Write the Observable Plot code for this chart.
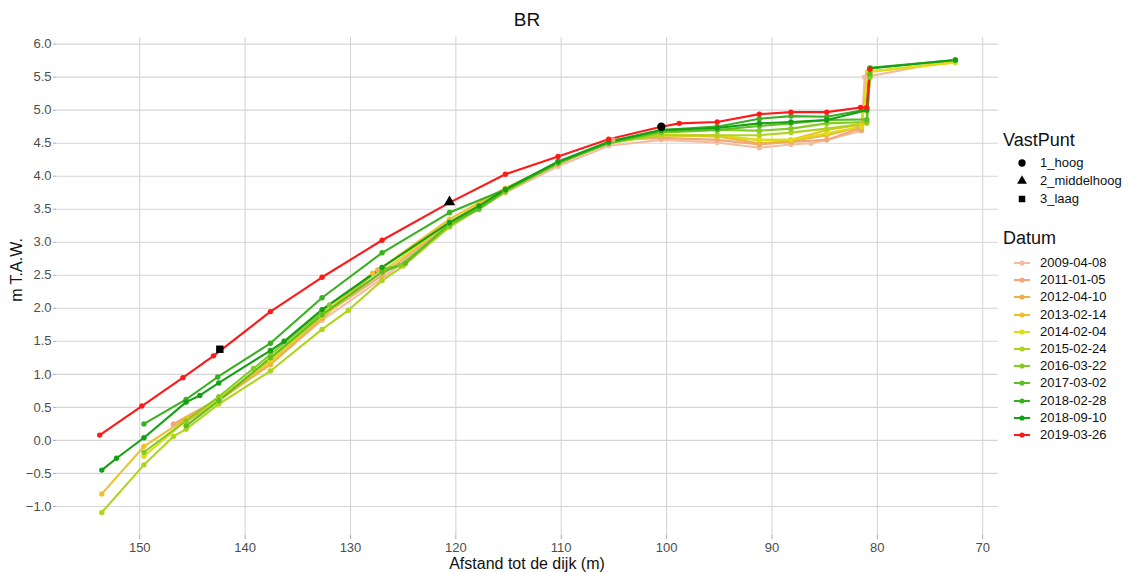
<!DOCTYPE html>
<html>
<head>
<meta charset="utf-8">
<script src="https://cdn.jsdelivr.net/npm/d3@7"></script>
<script src="https://cdn.jsdelivr.net/npm/@observablehq/plot@0.6"></script>
<style>
  html, body { margin: 0; padding: 0; background: #fff; }
  #wrap { position: relative; width: 1130px; height: 572px; font-family: "Liberation Sans", Arial, sans-serif; }
  .abs { position: absolute; white-space: nowrap; }
</style>
</head>
<body>
<div id="wrap"></div>
<script>
// ---------- data ----------
const dates = ["2009-04-08","2011-01-05","2012-04-10","2013-02-14","2014-02-04","2015-02-24","2016-03-22","2017-03-02","2018-02-28","2018-09-10","2019-03-26"];
const dateColors = ["#F2BDA0","#F0A87A","#EEB048","#EDC128","#DEDE14","#B0D41C","#86CA22","#5CBE22","#38B020","#14A014","#FF1A1A"];

const d2009 = [146.8,142.4,137.6,132.7,127.0,120.6,115.3,110.3,105.5,100.5,95.2,91.2,88.2,86.3,84.8,81.5,81.2,72.6];
const v2009 = [0.23,0.63,1.15,1.82,2.45,3.25,3.75,4.15,4.46,4.55,4.51,4.43,4.48,4.50,4.55,4.69,5.50,5.76];

const d2011 = [146.8,142.5,137.6,132.7,127.0,120.6,115.3,110.3,105.1,100.5,95.2,91.2,88.2,84.8,81.8,81.5,80.9];
const v2011 = [0.25,0.63,1.20,1.88,2.50,3.28,3.78,4.18,4.55,4.58,4.55,4.48,4.52,4.55,4.72,4.70,5.55];

const d2012 = [145.6,142.5,137.6,132.7,127.4,120.6,115.3,110.3,105.5,100.5,95.2,91.2,88.2,84.8,81.5,80.9];
const v2012 = [0.28,0.60,1.15,1.85,2.58,3.30,3.80,4.20,4.52,4.62,4.60,4.50,4.53,4.62,4.75,5.58];

const d2013 = [153.6,149.6,145.6,142.5,137.6,132.7,127.9,127.0,120.6,115.3,110.3,105.5,100.5,95.2,91.2,88.2,84.8,81.5,80.9,72.6];
const v2013 = [-0.81,-0.09,0.33,0.62,1.20,1.90,2.53,2.62,3.35,3.82,4.20,4.52,4.62,4.60,4.55,4.55,4.70,4.78,5.58,5.73];

const d2014 = [149.6,145.6,142.5,137.6,132.7,127.0,120.6,115.3,110.3,105.5,100.5,95.2,91.2,88.2,84.8,81.5,80.9,72.6];
const v2014 = [-0.24,0.30,0.63,1.22,1.88,2.55,3.30,3.80,4.20,4.52,4.62,4.62,4.55,4.55,4.65,4.75,5.58,5.72];

const d2015 = [153.6,149.6,146.8,145.6,142.5,137.6,132.7,130.2,127.0,125.0,120.6,115.3,110.3,105.5,100.5,95.2,91.2,88.2,84.8,81.0,80.7];
const v2015 = [-1.09,-0.37,0.06,0.17,0.55,1.05,1.68,1.97,2.42,2.64,3.23,3.76,4.20,4.50,4.62,4.62,4.62,4.66,4.72,4.80,5.52];

const d2016 = [149.6,145.6,142.5,139.2,137.6,132.7,132.0,127.0,125.3,120.6,115.3,110.3,105.5,100.5,95.2,91.2,88.2,84.8,81.0,80.7];
const v2016 = [-0.18,0.30,0.66,1.09,1.30,1.94,2.05,2.60,2.65,3.25,3.78,4.20,4.50,4.66,4.70,4.69,4.72,4.80,4.82,5.50];

const d2017 = [145.6,142.5,137.6,132.7,127.0,124.8,120.6,117.8,115.3,110.3,105.5,100.5,95.2,91.2,88.2,84.8,81.0,80.7];
const v2017 = [0.22,0.60,1.25,1.90,2.55,2.68,3.28,3.50,3.78,4.20,4.50,4.68,4.70,4.76,4.80,4.85,4.86,5.55];

const d2018a = [149.6,145.6,142.6,137.6,132.7,127.0,120.6,115.3,110.3,105.5,100.5,95.2,91.2,88.2,84.8,81.0,80.7,72.6];
const v2018a = [0.25,0.62,0.96,1.47,2.16,2.84,3.45,3.80,4.22,4.52,4.70,4.75,4.87,4.91,4.90,5.01,5.64,5.76];

const d2018b = [153.6,152.2,149.6,145.6,144.3,142.5,137.6,136.3,132.7,127.0,120.6,117.8,115.3,110.3,105.5,100.5,95.2,91.2,88.2,84.8,81.0,80.7,72.6];
const v2018b = [-0.45,-0.27,0.04,0.58,0.68,0.87,1.36,1.50,1.98,2.62,3.30,3.55,3.80,4.22,4.52,4.70,4.73,4.80,4.82,4.85,5.00,5.63,5.76];

const d2019 = [153.8,149.8,145.9,143.0,137.6,132.7,127.0,120.6,115.3,110.3,105.5,100.5,98.8,95.2,91.2,88.2,84.8,81.6,81.0,80.7];
const v2019 = [0.08,0.52,0.95,1.28,1.95,2.47,3.03,3.60,4.03,4.30,4.56,4.75,4.80,4.82,4.94,4.97,4.97,5.04,5.04,5.62];

const seriesD = [d2009,d2011,d2012,d2013,d2014,d2015,d2016,d2017,d2018a,d2018b,d2019];
const seriesV = [v2009,v2011,v2012,v2013,v2014,v2015,v2016,v2017,v2018a,v2018b,v2019];

const vpNames = ["1_hoog","2_middelhoog","3_laag"];
const vpSymbols = ["circle","triangle","square"];
const vpD = [100.5,120.6,142.4];
const vpV = [4.75,3.61,1.38];

const xTicks = [150,140,130,120,110,100,90,80,70];
const yTicks = [-1,-0.5,0,0.5,1,1.5,2,2.5,3,3.5,4,4.5,5,5.5,6];

// ---------- build tables ----------
const rows = [];
dates.forEach((dt, i) => seriesD[i].forEach((d, j) => rows.push({date: dt, d, v: seriesV[i][j]})));
const vp = vpNames.map((n, i) => ({name: n, d: vpD[i], v: vpV[i]}));

const W = 1130, H = 572;
const mL = 56, mR = 132, mT = 37, mB = 37;
const gridColor = "#d5d5d5";
const tickColor = "#4d4d4d";

const chart = Plot.plot({
  width: W, height: H,
  marginLeft: mL, marginRight: mR, marginTop: mT, marginBottom: mB,
  style: {fontFamily: "Liberation Sans, Arial, sans-serif", background: "white"},
  x: {domain: [157.9, 68.5], label: null},
  y: {domain: [-1.44, 6.10], label: null},
  color: {domain: dates, range: dateColors, type: "ordinal"},
  symbol: {domain: vpNames, range: vpSymbols},
  marks: [
    Plot.gridX(xTicks, {stroke: gridColor, strokeOpacity: 1, strokeWidth: 1.1}),
    Plot.gridY(yTicks, {stroke: gridColor, strokeOpacity: 1, strokeWidth: 1.1}),
    Plot.axisX(xTicks, {tickSize: 4, tickPadding: 3, fontSize: 13, color: tickColor, stroke: "#aaaaaa", label: null, tickFormat: d => String(d)}),
    Plot.axisY(yTicks, {tickSize: 3, tickPadding: 2, fontSize: 13, color: tickColor, stroke: "#aaaaaa", label: null, tickFormat: d3.format(".1f")}),
    Plot.line(rows, {x: "d", y: "v", z: "date", stroke: "date", strokeWidth: 2.1, curve: "linear"}),
    Plot.dot(rows, {x: "d", y: "v", fill: "date", r: 2.7, stroke: "none"}),
    Plot.dot(vp, {x: "d", y: "v", symbol: "name", fill: "black", r: 4.2, stroke: "none"})
  ]
});

const wrap = document.getElementById("wrap");
chart.style.position = "absolute";
chart.style.left = "0px";
chart.style.top = "0px";
wrap.appendChild(chart);

function addText(txt, css) {
  const el = document.createElement("div");
  el.className = "abs";
  el.textContent = txt;
  Object.assign(el.style, css);
  wrap.appendChild(el);
  return el;
}

const panelCx = mL + (W - mL - mR) / 2;
// title
addText("BR", {left: panelCx + "px", top: "10px", transform: "translateX(-50%)", fontSize: "19px", lineHeight: "20px", color: "#111"});
// x label
addText("Afstand tot de dijk (m)", {left: panelCx + "px", top: "556px", transform: "translateX(-50%)", fontSize: "16px", lineHeight: "16px", color: "#111"});
// y label
addText("m T.A.W.", {left: "17px", top: "270px", transform: "translate(-50%,-50%) rotate(-90deg)", fontSize: "16px", lineHeight: "16px", color: "#111"});

// legends
const lgX = 1003;
addText("VastPunt", {left: lgX + "px", top: "130px", fontSize: "18px", lineHeight: "20px", color: "#111"});
vpNames.forEach((n, i) => {
  const y = 163 + i * 18;
  const svg = d3.create("svg").attr("width", 20).attr("height", 16)
    .style("position", "absolute").style("left", (lgX + 9) + "px").style("top", (y - 8) + "px");
  const sym = [d3.symbolCircle, d3.symbolTriangle, d3.symbolSquare][i];
  svg.append("path").attr("d", d3.symbol(sym, 42)()).attr("transform", "translate(10,8)").attr("fill", "black");
  wrap.appendChild(svg.node());
  addText(n, {left: (lgX + 37) + "px", top: (y - 8) + "px", fontSize: "13px", color: "#111", lineHeight: "16px"});
});

addText("Datum", {left: lgX + "px", top: "228px", fontSize: "18px", lineHeight: "20px", color: "#111"});
dates.forEach((dt, i) => {
  const y = 263 + i * 17.2;
  const svg = d3.create("svg").attr("width", 20).attr("height", 16)
    .style("position", "absolute").style("left", (lgX + 9) + "px").style("top", (y - 8) + "px");
  svg.append("line").attr("x1", 2).attr("x2", 18).attr("y1", 8).attr("y2", 8).attr("stroke", dateColors[i]).attr("stroke-width", 2);
  svg.append("circle").attr("cx", 10).attr("cy", 8).attr("r", 2.6).attr("fill", dateColors[i]);
  wrap.appendChild(svg.node());
  addText(dt, {left: (lgX + 37) + "px", top: (y - 8) + "px", fontSize: "13px", color: "#111", lineHeight: "16px"});
});
</script>
</body>
</html>
